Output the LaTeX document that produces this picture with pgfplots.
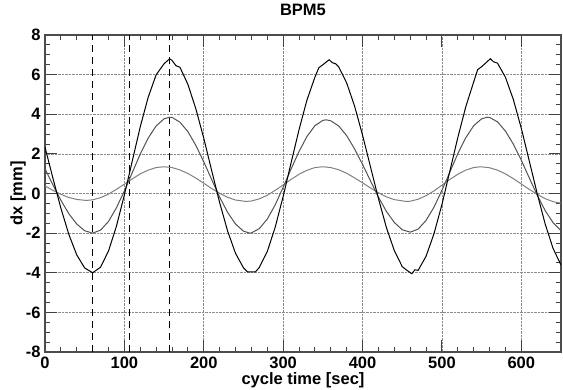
\documentclass[border=0pt]{standalone}
\usepackage{pgfplots}
\pgfplotsset{compat=1.18}
\usepackage{fontspec}
\setmainfont{Liberation Sans}
\begin{document}
\begin{tikzpicture}
\path[use as bounding box] (-45pt,-37pt) rectangle (518pt,352pt);
\begin{axis}[
  at={(0pt,0pt)}, anchor=south west,
  scale only axis, width=516pt, height=317pt,
  xmin=0, xmax=650, ymin=-8, ymax=8,
  xtick={0,100,...,600}, ytick={-8,-6,...,8},
  minor x tick num=4, minor y tick num=3,
  tick align=inside, major tick length=12pt, minor tick length=5pt,
  tick style={black!75, line width=0.9pt},
  axis line style={black!70, line width=1.2pt},
  grid=major, grid style={densely dotted, black!45, line width=0.6pt},
  /pgf/number format/assume math mode=true,
  ticklabel style={font=\fontsize{16.5}{19}\selectfont\bfseries},
  xticklabel style={yshift=-1pt},
  yticklabel style={xshift=-1pt},
  label style={font=\fontsize{16.5}{19}\selectfont\bfseries},
  every axis title shift=0pt,
  title style={font=\fontsize{16.5}{19}\selectfont\bfseries, at={([yshift=25pt]axis description cs:0.5,1)}, anchor=center},
  title={BPM5},
  xlabel={cycle time [sec]},
  ylabel={dx [mm]},
  xlabel style={at={([yshift=-28pt]axis description cs:0.5,0)}, anchor=center},
  ylabel style={at={([xshift=-27pt]axis description cs:0,0.5)}, anchor=center, rotate=0},
]
% vertical markers
\addplot[black, line width=0.9pt, dash pattern=on 7pt off 5pt] coordinates {(60,-8) (60,8)};
\addplot[black, line width=0.9pt, dash pattern=on 7pt off 5pt] coordinates {(107,-8) (107,8)};
\addplot[black, line width=0.9pt, dash pattern=on 7pt off 5pt] coordinates {(157,-8) (157,8)};
% light series
\addplot[black!50, line width=1pt] coordinates {
(0,0.38)(10,0.16)(20,-0.04)(30,-0.20)(40,-0.30)(52,-0.35)(60,-0.32)(70,-0.21)(80,-0.03)(90,0.21)(100,0.47)(110,0.74)(120,0.99)(130,1.18)(140,1.31)(150,1.35)(160,1.31)(170,1.19)(180,1.01)(190,0.78)(200,0.52)(210,0.25)(220,0.01)(230,-0.19)(240,-0.33)(253,-0.40)(260,-0.38)(270,-0.27)(280,-0.09)(290,0.16)(300,0.43)(310,0.71)(320,0.97)(330,1.17)(340,1.31)(350,1.35)(360,1.31)(370,1.20)(380,1.02)(390,0.79)(400,0.54)(410,0.28)(420,0.04)(430,-0.17)(440,-0.31)(455,-0.40)(460,-0.39)(470,-0.29)(480,-0.11)(490,0.13)(500,0.42)(510,0.71)(520,0.97)(530,1.18)(540,1.31)(549,1.35)(560,1.30)(570,1.18)(580,0.99)(590,0.75)(600,0.48)(610,0.21)(620,-0.04)(630,-0.26)(640,-0.41)(650,-0.49)
};
% mid series
\addplot[black!68, line width=1pt] coordinates {
(0,1.25)(10,0.43)(20,-0.34)(30,-1.02)(40,-1.54)(50,-1.88)(60,-2.0)(70,-1.85)(80,-1.41)(90,-0.72)(100,0.13)(110,1.06)(120,1.99)(130,2.80)(140,3.41)(150,3.77)(157,3.85)(160,3.84)(170,3.60)(180,3.12)(190,2.43)(200,1.60)(210,0.70)(220,-0.18)(230,-0.95)(240,-1.54)(250,-1.90)(258,-2.0)(260,-1.99)(270,-1.77)(280,-1.29)(290,-0.57)(300,0.31)(310,1.24)(320,2.12)(330,2.88)(340,3.42)(350,3.69)(354,3.72)(360,3.67)(370,3.41)(380,2.92)(390,2.25)(400,1.47)(410,0.64)(420,-0.18)(430,-0.90)(440,-1.46)(450,-1.83)(460,-1.95)(470,-1.80)(480,-1.36)(490,-0.69)(500,0.16)(510,1.08)(520,2.01)(530,2.81)(540,3.42)(550,3.77)(557,3.85)(560,3.84)(570,3.62)(580,3.15)(590,2.49)(600,1.68)(610,0.79)(620,-0.08)(630,-0.86)(640,-1.47)(650,-1.87)
};
% dark series
\addplot[black, line width=1pt] coordinates {
(0,2.34)(10,0.77)(20,-0.74)(30,-2.06)(40,-3.10)(50,-3.76)(60,-4.0)(70,-3.72)(80,-2.90)(90,-1.65)(100,-0.07)(110,1.65)(120,3.37)(130,4.86)(140,5.99)(150,6.55)(157,6.8)(160,6.72)(165,6.45)(170,6.37)(180,5.51)(190,4.28)(200,2.79)(210,1.15)(220,-0.46)(230,-1.89)(240,-3.02)(250,-3.75)(255,-3.95)(265,-3.96)(270,-3.73)(280,-2.93)(290,-1.70)(300,-0.15)(310,1.55)(320,3.22)(330,4.72)(340,5.87)(345,6.35)(350,6.50)(358,6.75)(362,6.60)(366,6.55)(370,6.39)(380,5.58)(390,4.41)(400,2.95)(410,1.35)(420,-0.25)(430,-1.71)(440,-2.88)(450,-3.69)(455,-3.85)(462,-4.05)(466,-3.85)(470,-3.88)(480,-3.17)(490,-2.03)(500,-0.56)(510,1.13)(520,2.82)(530,4.37)(540,5.63)(545,6.25)(550,6.40)(561,6.8)(565,6.65)(570,6.58)(580,5.87)(590,4.74)(600,3.29)(610,1.65)(620,0.0)(630,-1.53)(640,-2.77)(650,-3.61)
};
\end{axis}
\end{tikzpicture}
\end{document}
